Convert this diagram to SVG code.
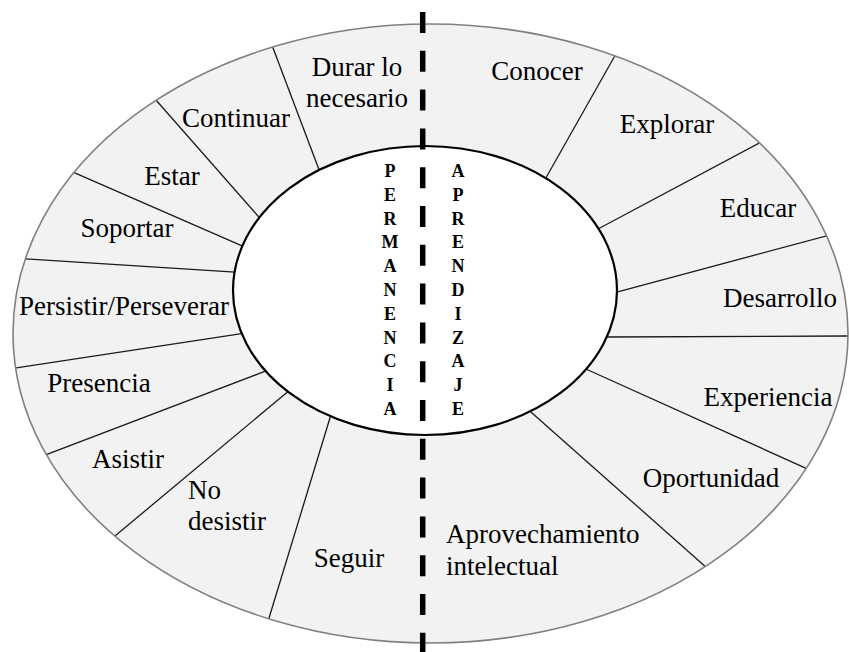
<svg xmlns="http://www.w3.org/2000/svg" width="849" height="652" viewBox="0 0 849 652">
<style>
  .lbl { font-family: "Liberation Serif", "Times New Roman", serif; font-size: 27px; fill: #000; }
  .mid { text-anchor: middle; }
  .vert { font-family: "Liberation Serif", "Times New Roman", serif; font-size: 18px; font-weight: bold; fill: #000; text-anchor: middle; }
  .div { stroke: #1a1a1a; stroke-width: 1.3; fill: none; }
</style>
<defs>
  <clipPath id="outerClip">
    <ellipse cx="430.5" cy="333.5" rx="417.5" ry="309.5"/>
  </clipPath>
</defs>
<rect width="849" height="652" fill="#ffffff"/>
<g id="ring">
  <ellipse cx="430.5" cy="333.5" rx="417.5" ry="309.5" fill="#f2f2f2" stroke="none"/>
</g>
<g id="connectors" clip-path="url(#outerClip)">
  <line class="div" x1="271.6" y1="44.3" x2="320.1" y2="172.6"/>
  <line class="div" x1="152.4" y1="96" x2="261" y2="219.5"/>
  <line class="div" x1="71.3" y1="171.4" x2="245.5" y2="247.4"/>
  <line class="div" x1="22" y1="258.7" x2="239" y2="272.4"/>
  <line class="div" x1="12" y1="368.6" x2="244.9" y2="333.1"/>
  <line class="div" x1="44.3" y1="455.4" x2="268.6" y2="369.9"/>
  <line class="div" x1="111.9" y1="538.6" x2="289.6" y2="390.2"/>
  <line class="div" x1="268.8" y1="618.8" x2="331.7" y2="412.3"/>
  <line class="div" x1="619" y1="48.5" x2="544" y2="181.2"/>
  <line class="div" x1="768.5" y1="138.1" x2="594.7" y2="230.8"/>
  <line class="div" x1="840.9" y1="232" x2="611.2" y2="293.6"/>
  <line class="div" x1="852" y1="336" x2="607" y2="337"/>
  <line class="div" x1="815.6" y1="472.6" x2="582.5" y2="367.5"/>
  <line class="div" x1="710" y1="570.7" x2="527.5" y2="409"/>
</g>
<g id="outline">
  <ellipse cx="430.5" cy="333.5" rx="417.5" ry="309.5" fill="none" stroke="#808080" stroke-width="1.6"/>
</g>
<g id="center">
  <ellipse cx="425" cy="290.5" rx="192" ry="144.5" fill="#ffffff" stroke="#000000" stroke-width="2.2"/>
</g>
<g id="n-durar"><text class="lbl mid" x="357" y="76">Durar lo</text><text class="lbl mid" x="357" y="107">necesario</text></g>
<g id="n-continuar"><text class="lbl mid" x="236" y="127">Continuar</text></g>
<g id="n-estar"><text class="lbl mid" x="172" y="185">Estar</text></g>
<g id="n-soportar"><text class="lbl mid" x="127" y="237">Soportar</text></g>
<g id="n-persistir"><text class="lbl mid" x="124" y="315">Persistir/Perseverar</text></g>
<g id="n-presencia"><text class="lbl mid" x="99" y="392">Presencia</text></g>
<g id="n-asistir"><text class="lbl mid" x="128" y="468">Asistir</text></g>
<g id="n-nodesistir"><text class="lbl" x="188" y="499">No</text><text class="lbl" x="188" y="530">desistir</text></g>
<g id="n-seguir"><text class="lbl mid" x="349" y="567">Seguir</text></g>
<g id="n-conocer"><text class="lbl mid" x="537" y="80">Conocer</text></g>
<g id="n-explorar"><text class="lbl mid" x="667" y="133">Explorar</text></g>
<g id="n-educar"><text class="lbl mid" x="758" y="217">Educar</text></g>
<g id="n-desarrollo"><text class="lbl mid" x="780" y="307">Desarrollo</text></g>
<g id="n-experiencia"><text class="lbl mid" x="768" y="406">Experiencia</text></g>
<g id="n-oportunidad"><text class="lbl mid" x="711" y="487">Oportunidad</text></g>
<g id="n-aprovechamiento"><text class="lbl" x="446" y="543">Aprovechamiento</text><text class="lbl" x="446" y="575">intelectual</text></g>
<g id="n-permanencia">
  <text class="vert" x="390" y="177">P</text>
  <text class="vert" x="390" y="200.8">E</text>
  <text class="vert" x="390" y="224.6">R</text>
  <text class="vert" x="390" y="248.4">M</text>
  <text class="vert" x="390" y="272.2">A</text>
  <text class="vert" x="390" y="296">N</text>
  <text class="vert" x="390" y="319.8">E</text>
  <text class="vert" x="390" y="343.6">N</text>
  <text class="vert" x="390" y="367.4">C</text>
  <text class="vert" x="390" y="391.2">I</text>
  <text class="vert" x="390" y="415">A</text>
</g>
<g id="n-aprendizaje">
  <text class="vert" x="458" y="177">A</text>
  <text class="vert" x="458" y="200.8">P</text>
  <text class="vert" x="458" y="224.6">R</text>
  <text class="vert" x="458" y="248.4">E</text>
  <text class="vert" x="458" y="272.2">N</text>
  <text class="vert" x="458" y="296">D</text>
  <text class="vert" x="458" y="319.8">I</text>
  <text class="vert" x="458" y="343.6">Z</text>
  <text class="vert" x="458" y="367.4">A</text>
  <text class="vert" x="458" y="391.2">J</text>
  <text class="vert" x="458" y="415">E</text>
</g>
<g id="divider-line">
  <line x1="422.7" y1="12" x2="422.7" y2="652" stroke="#000000" stroke-width="5.5" stroke-dasharray="21 17.8"/>
</g>
</svg>
